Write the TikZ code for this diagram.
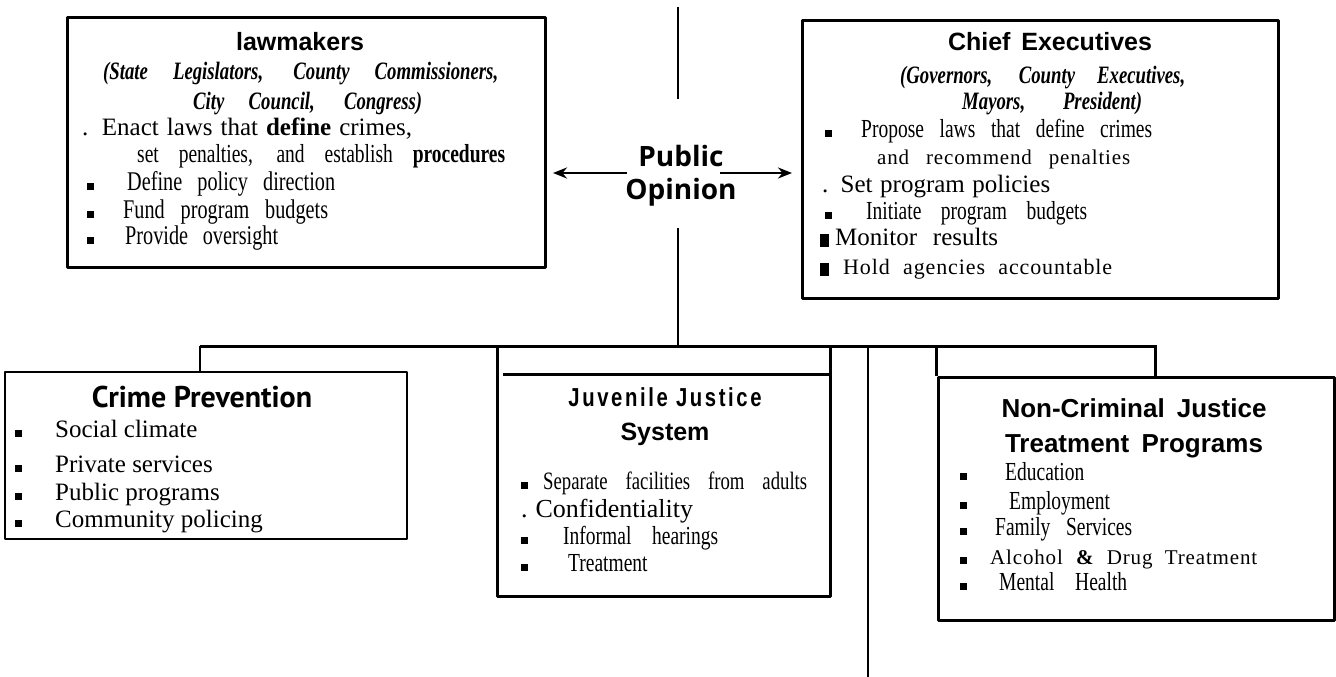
\documentclass[tikz,border=0pt]{standalone}
\usepackage{fontspec}
\setmainfont{Liberation Serif}
\newfontfamily\headfont{Liberation Sans}
\newfontfamily\crimefont{PT Sans}
\newfontfamily\pubfont{Open Sans}
\newfontfamily\narrow[FakeStretch=0.75]{Liberation Serif}
\newfontfamily\spaced[LetterSpace=4]{Liberation Serif}
\newfontfamily\juvfont[FakeStretch=0.78,LetterSpace=10]{Liberation Sans}
\usetikzlibrary{arrows.meta}
\newcommand{\fs}[1]{\fontsize{#1}{#1}\selectfont}
\newcommand{\bul}[1]{\makebox[#1pt][l]{\rule{7pt}{7pt}}}
\newcommand{\bigbul}[1]{\makebox[#1pt][l]{\rule[-2pt]{9pt}{13pt}}}
\newcommand{\wide}[2]{\makebox[#1pt][s]{#2}}
\begin{document}
\begin{tikzpicture}[x=1pt, y=-1pt, line join=round, >=Stealth,
	box/.style={draw, line width=3pt, inner sep=0pt},
	ln/.style={anchor=base west, inner sep=0pt},
	mid/.style={anchor=base, inner sep=0pt},
	arr/.style={->, line width=2.5pt, >={Stealth[length=14pt,width=11pt]}}]
	\useasboundingbox (0,0) rectangle (1336,677);
	\path
	(678,7) coordinate (T1)
	(678,99) coordinate (T2)
	(678,228) coordinate (T3)
	(678,346) coordinate (BR)
	(200,346) coordinate (BRL)
	(1157,346) coordinate (BRR)
	(1155,346) coordinate (NC)
	(868,346) coordinate (L1)
	(868,677) coordinate (L2)
	(503,374) coordinate (J1)
	(627,173) coordinate (PL)
	(720,173) coordinate (PR)
	;
	\node[box, minimum width=478, minimum height=249] (law) at (306,142.5) {};
	\node[box, minimum width=476, minimum height=277] (ce) at (1040,159.5) {};
	\node[box, line width=2pt, minimum width=402, minimum height=167] (crime) at (206,455.5) {};
	\node[box, minimum width=333, minimum height=250] (juv) at (663.5,471) {};
	\node[box, minimum width=396, minimum height=243] (ncj) at (1136,498.5) {};
	\node[font=\pubfont\bfseries\fontsize{28}{33}\selectfont, align=center, inner sep=0pt] (pub) at (681,176) {Public\\Opinion};
	
	\draw[line width=2pt] (T1)--(T2) (T3)--(BR);
	\draw[line width=3pt] (BRL)--(BRR) (J1)--(J1-|juv.east) (ncj.north west)--(ncj.north west|-BR) (NC)--(NC|-ncj.north);
	\draw[line width=2pt] (BRL)--(BRL|-crime.north);
	\draw[line width=2.5pt] (L1)--(L2);
	\draw[arr, shorten >=6.5pt] (PL)--(PL-|law.east);
	\draw[arr, shorten >=8.5pt] (PR)--(PR-|ce.west);
	
	\node[mid, font=\headfont\bfseries\fs{25}] (law-head) at (300,51) {lawmakers};
	\node[ln, font=\narrow\bfseries\itshape\fs{25}] (law-sub1) at (103,80) {\wide{395}{(State Legislators, County Commissioners,}};
	\node[ln, font=\narrow\bfseries\itshape\fs{25}] (law-sub2) at (193,109) {\wide{229}{City Council, Congress)}};
	\node[ln, font=\fs{25}] (law-1) at (82,135) {\wide{330}{. Enact laws that \textbf{define} crimes,}};
	\node[ln, font=\narrow\fs{26}] (law-2) at (137,162) {\wide{368}{set penalties, and establish \textbf{procedures}}};
	\foreach \i/\y/\g/\w/\txt in {3/190/40/248/Define policy direction, 4/218/36/241/Fund program budgets, 5/244/38/191/Provide oversight}{
		\node[ln, font=\narrow\fs{27}] (law-\i) at (87,\y) {\wide{\w}{\bul{\g}\txt}};
	}
	
	\node[mid, font=\headfont\bfseries\fs{25}] (ce-head) at (1050,51) {\wide{204}{Chief Executives}};
	\node[ln, font=\narrow\bfseries\itshape\fs{25}] (ce-sub1) at (900,84) {\wide{285}{(Governors, County Executives,}};
	\node[ln, font=\narrow\bfseries\itshape\fs{25}] (ce-sub2) at (962,110) {\wide{180}{Mayors, President)}};
	\node[ln, font=\narrow\fs{26}] (ce-1) at (825,137) {\wide{327}{\bul{36}Propose laws that define crimes}};
	\node[ln, font=\spaced\fs{21}] (ce-2) at (877,164) {\wide{253}{and recommend penalties}};
	\node[ln, font=\fs{25}] (ce-3) at (822,192) {\wide{228}{. Set program policies}};
	\node[ln, font=\narrow\fs{26}] (ce-4) at (825,219) {\wide{262}{\bul{41}Initiate program budgets}};
	\node[ln, font=\fs{25}] (ce-5) at (820,245) {\wide{178}{\bigbul{15}Monitor results}};
	\node[ln, font=\spaced\fs{22}] (ce-6) at (820,274) {\wide{292}{\bigbul{23}Hold agencies accountable}};
	
	\node[mid, font=\crimefont\bfseries\fs{30}] (crime-head) at (202,407) {Crime Prevention};
	\foreach \i/\y/\txt in {1/437/Social climate, 2/472/Private services, 3/500/Public programs, 4/527/Community policing}{
		\node[ln, font=\fs{25}] (crime-\i) at (15,\y) {\bul{40}\txt};
	}
	
	\node[mid, font=\juvfont\bfseries\fs{26}] (juv-head) at (665,406) {Juvenile Justice};
	\node[mid, font=\headfont\bfseries\fs{25}] (juv-sys) at (665,440) {System};
	\node[ln, font=\narrow\fs{25}] (juv-1) at (521,489) {\wide{286}{\bul{22}Separate facilities from adults}};
	\node[ln, font=\fs{26}] (juv-2) at (521,517) {\wide{171}{. Confidentiality}};
	\node[ln, font=\narrow\fs{26}] (juv-3) at (521,544) {\wide{197}{\bul{42}Informal hearings}};
	\node[ln, font=\narrow\fs{26}] (juv-4) at (521,571) {\wide{126}{\bul{47}Treatment}};
	
	\node[mid, font=\headfont\bfseries\fs{26}] (ncj-head1) at (1134,417) {\wide{265}{Non-Criminal Justice}};
	\node[mid, font=\headfont\bfseries\fs{26}] (ncj-head2) at (1134,452) {\wide{258}{Treatment Programs}};
	\foreach \i/\y/\g/\w/\txt in {1/480/45/125/Education, 2/509/49/153/Employment, 3/535/35/172/Family Services, 5/590/39/167/Mental Health}{
		\node[ln, font=\narrow\fs{26}] (ncj-\i) at (960,\y) {\wide{\w}{\bul{\g}\txt}};
	}
	\node[ln, font=\spaced\fs{21}] (ncj-4) at (960,564) {\wide{297}{\bul{30}Alcohol \textbf{\&} Drug Treatment}};
\end{tikzpicture}
\end{document}
